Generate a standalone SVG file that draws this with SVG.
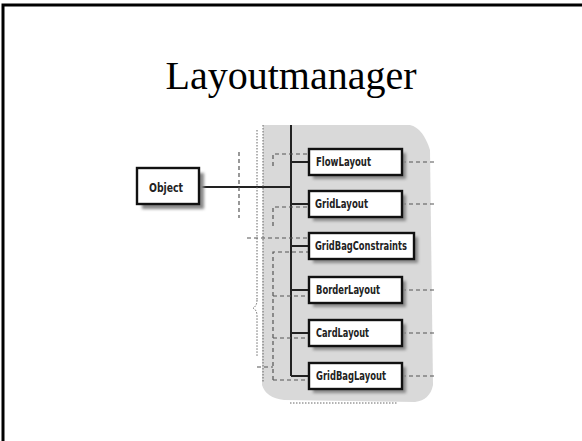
<svg xmlns="http://www.w3.org/2000/svg" width="582" height="441" viewBox="0 0 582 441">
<defs>
<filter id="blur" x="-20%" y="-20%" width="140%" height="140%"><feGaussianBlur stdDeviation="1.5"/></filter>
<style>
.box{fill:#fff;stroke:#111;stroke-width:2.4}
.sh{fill:#888;filter:url(#blur)}
.lbl{font-family:"DejaVu Sans Condensed","DejaVu Sans",sans-serif;font-weight:bold;font-size:12.5px;fill:#222}
.solid{stroke:#222;stroke-width:2;fill:none}
.dash{stroke:#555;stroke-width:1.2;stroke-dasharray:4 3;fill:none}
.dot{stroke:#666;stroke-width:1;stroke-dasharray:1.5 1.5;fill:none}
</style>
</defs>
<rect x="3" y="5" width="620" height="500" fill="#fff" stroke="#000" stroke-width="3"/>
<text x="291" y="89" text-anchor="middle" font-family="Liberation Serif, serif" font-size="40" fill="#000">Layoutmanager</text>
<path d="M263,125 L410,125 Q423,128 430,150 L433,385 Q430,400 415,402 L284,400 Q266,398 262,385 Z" fill="#d9d9d9"/>
<g id="connectors">
<line class="solid" x1="199" y1="187" x2="291" y2="187"/>
<line class="solid" x1="291" y1="125" x2="291" y2="376"/>
<line class="solid" x1="291" y1="162" x2="309" y2="162"/>
<line class="solid" x1="291" y1="204" x2="309" y2="204"/>
<line class="solid" x1="291" y1="246" x2="309" y2="246"/>
<line class="solid" x1="291" y1="290" x2="309" y2="290"/>
<line class="solid" x1="291" y1="333" x2="309" y2="333"/>
<line class="solid" x1="291" y1="376" x2="309" y2="376"/>
<path class="dash" d="M273,166 V154 H309"/>
<path class="dash" d="M273,226 V207 H309"/>
<path class="dash" d="M247,238 H309"/>
<path class="dash" d="M273,380 V252 H309"/>
<path class="dash" d="M273,296 H309"/>
<path class="dash" d="M273,338 H309"/>
<path class="dash" d="M273,380 H309"/>
<path class="dash" d="M257,367 H273"/>
<line class="dash" x1="402" y1="162" x2="434" y2="162"/>
<line class="dash" x1="402" y1="204" x2="434" y2="204"/>
<line class="dash" x1="402" y1="290" x2="434" y2="290"/>
<line class="dash" x1="402" y1="333" x2="434" y2="333"/>
<line class="dash" x1="402" y1="376" x2="434" y2="376"/>
<line class="dash" x1="239" y1="152" x2="239" y2="218"/>
<line class="dot" x1="257" y1="130" x2="257" y2="300"/>
<path class="dot" d="M257,300 Q257,306 253,308 Q257,310 257,316 V357"/>
<line class="dot" x1="263" y1="125" x2="263" y2="382"/>
<line class="dot" x1="290" y1="403" x2="397" y2="403"/>
</g>
<g id="Object">
<rect class="sh" x="142" y="173" width="62" height="36"/>
<rect class="box" x="137" y="168" width="62" height="36"/>
<text class="lbl" x="149" y="192" font-size="14" textLength="34" lengthAdjust="spacingAndGlyphs">Object</text>
</g>
<g id="FlowLayout">
<rect class="sh" x="313" y="153" width="93" height="26"/>
<rect class="box" x="309" y="149" width="93" height="26"/>
<text class="lbl" x="316" y="166" textLength="55" lengthAdjust="spacingAndGlyphs">FlowLayout</text>
</g>
<g id="GridLayout">
<rect class="sh" x="313" y="195" width="93" height="26"/>
<rect class="box" x="309" y="191" width="93" height="26"/>
<text class="lbl" x="315" y="208" textLength="53" lengthAdjust="spacingAndGlyphs">GridLayout</text>
</g>
<g id="GridBagConstraints">
<rect class="sh" x="313" y="237" width="105" height="26"/>
<rect class="box" x="309" y="233" width="105" height="26"/>
<text class="lbl" x="315" y="250" textLength="92" lengthAdjust="spacingAndGlyphs">GridBagConstraints</text>
</g>
<g id="BorderLayout">
<rect class="sh" x="313" y="281" width="93" height="26"/>
<rect class="box" x="309" y="277" width="93" height="26"/>
<text class="lbl" x="316" y="294" textLength="64" lengthAdjust="spacingAndGlyphs">BorderLayout</text>
</g>
<g id="CardLayout">
<rect class="sh" x="313" y="324" width="93" height="26"/>
<rect class="box" x="309" y="320" width="93" height="26"/>
<text class="lbl" x="316" y="337" textLength="53" lengthAdjust="spacingAndGlyphs">CardLayout</text>
</g>
<g id="GridBagLayout">
<rect class="sh" x="313" y="367" width="93" height="26"/>
<rect class="box" x="309" y="363" width="93" height="26"/>
<text class="lbl" x="316" y="380" textLength="70" lengthAdjust="spacingAndGlyphs">GridBagLayout</text>
</g>
</svg>
